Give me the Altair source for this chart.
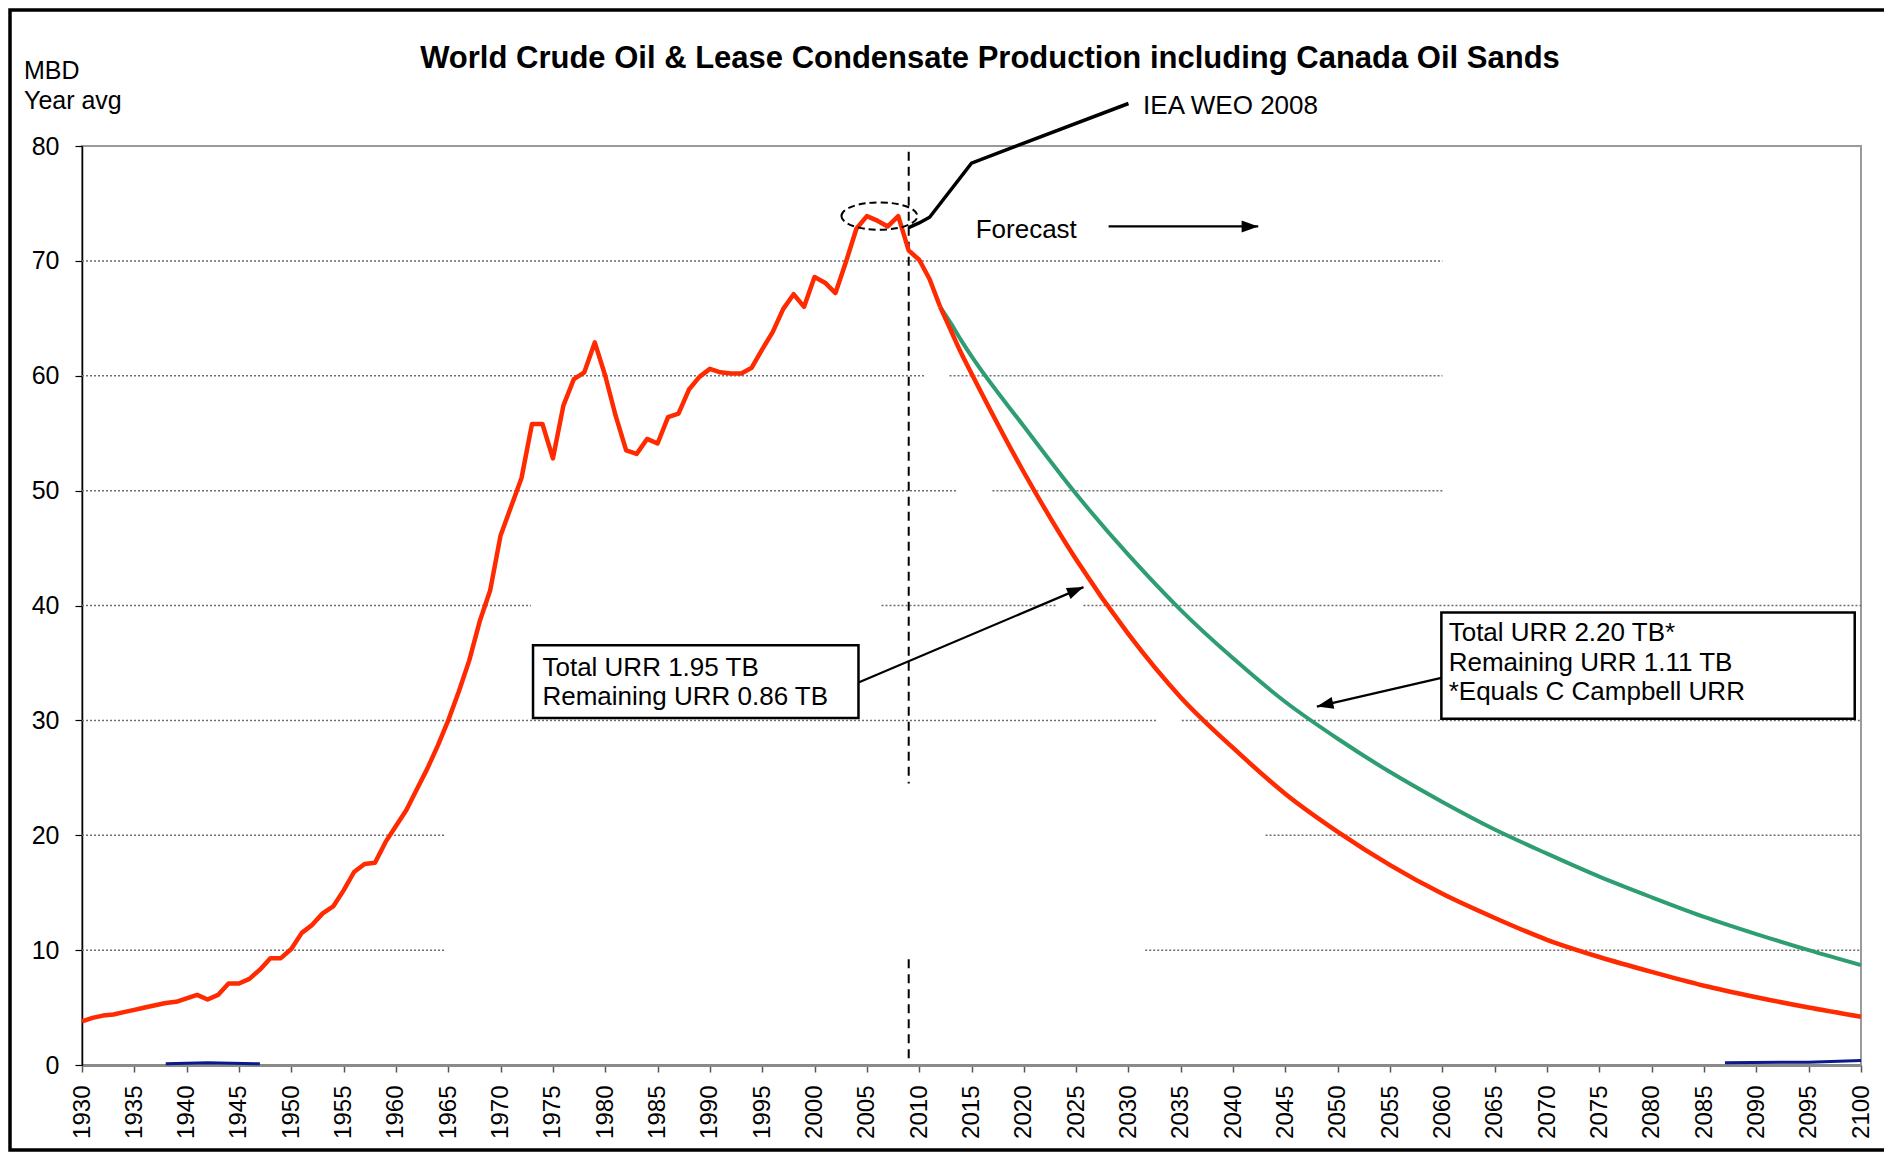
import altair as alt
import pandas as pd
import math

FONT = "Liberation Sans"

# ---------------- data ----------------
hist_years = list(range(1930, 2013))
hist_vals = [3.8, 4.1, 4.3, 4.4, 4.6, 4.8, 5.0, 5.2, 5.4, 5.5,
             5.8, 6.1, 5.7, 6.1, 7.1, 7.1, 7.5, 8.3, 9.3, 9.3,
             10.1, 11.5, 12.2, 13.2, 13.8, 15.2, 16.8, 17.5, 17.6, 19.4,
             20.8, 22.2, 24.0, 25.8, 27.8, 30.0, 32.5, 35.2, 38.6, 41.3,
             46.1, 48.6, 51.1, 55.8, 55.8, 52.8, 57.4, 59.7, 60.3, 62.9,
             60.0, 56.5, 53.5, 53.2, 54.5, 54.1, 56.4, 56.7, 58.8, 59.9,
             60.6, 60.3, 60.2, 60.2, 60.7, 62.3, 63.8, 65.8, 67.1, 66.0,
             68.6, 68.1, 67.2, 69.9, 72.8, 73.9, 73.5, 73.0, 73.9, 70.9,
             70.1, 68.4, 66.0]

fc_years = [2012, 2013, 2014, 2015, 2020, 2025, 2030, 2035, 2040, 2045, 2050,
            2055, 2060, 2065, 2070, 2075, 2080, 2085, 2090, 2095, 2100]
red_fc = [66.0, 64.0, 62.0, 60.2, 51.6, 44.0, 37.5, 32.0, 27.6, 23.6, 20.3,
          17.4, 14.9, 12.8, 10.9, 9.4, 8.1, 6.9, 5.9, 5.0, 4.2]
green_fc = [66.0, 64.6, 63.1, 61.7, 55.6, 49.7, 44.4, 39.6, 35.4, 31.6, 28.4,
            25.5, 22.9, 20.5, 18.4, 16.4, 14.6, 12.9, 11.4, 10.0, 8.7]

iea_years = [2009, 2010, 2011, 2015, 2019, 2030]
iea_vals = [72.9, 73.3, 73.8, 78.5, 79.9, 83.7]

navy_years = [1938, 1942, 1947, 2087, 2095, 2100]
navy_vals = [0.1, 0.2, 0.1, 0.2, 0.25, 0.4]
navy_grp = ["a", "a", "a", "b", "b", "b"]

# horizontal gridline segments (value, from year, to year)
grid_vals = [70, 60, 60, 50, 50, 40, 40, 40, 30, 30, 20, 20, 10, 10]
grid_from = [1930, 1930, 2012.9, 1930, 2017.0, 1930, 2006.4, 2025.7, 1930, 2035.1, 1930, 2043.1, 1930, 2031.6]
grid_to = [2060, 2010.6, 2060, 2013.7, 2060, 1972.9, 2023.2, 2100, 2032.7, 2100, 1964.6, 2100, 1964.6, 2100]

x_ticks = list(range(1930, 2101, 5))
y_ticks = list(range(0, 81, 10))

# ---------------- layout ----------------
W, H = 1779, 919
PX_YEAR = W / 170.0
PX_UNIT = H / 80.0

x_scale = alt.Scale(domain=[1930, 2100], nice=False, zero=False)
y_scale = alt.Scale(domain=[0, 80], nice=False, zero=True)

x_axis = alt.Axis(values=x_ticks, format="d", labelAngle=270, labelFontSize=24,
                  labelFont=FONT, labelColor="black", tickColor="#555",
                  tickSize=7, tickWidth=1.5, domainColor="#8a8a8a", domainWidth=3,
                  grid=False, title=None, labelPadding=13, labelOverlap=False,
                  labelFlush=False)
y_axis = alt.Axis(values=y_ticks, labelFontSize=25, labelFont=FONT, labelColor="black",
                  tickColor="black", tickSize=7, tickWidth=1.2, domainColor="black",
                  domainWidth=1.5, grid=False, title=None, labelPadding=16)


def X(f):
    return alt.X(f, type="quantitative", scale=x_scale, axis=x_axis)


def Y(f):
    return alt.Y(f, type="quantitative", scale=y_scale, axis=y_axis)


one = pd.DataFrame({"k": [0]})

frame = alt.Chart(one).mark_rect(fillOpacity=0, stroke="black", strokeWidth=3.5).encode(
    x=alt.value(-72), x2=alt.value(1950), y=alt.value(-136), y2=alt.value(1004))

grid_df = pd.DataFrame({"gy": grid_vals, "gx1": grid_from, "gx2": grid_to})
grid = alt.Chart(grid_df).mark_rule(strokeDash=[2, 2], color="#6e6e6e", strokeWidth=1.5).encode(
    x=X("gx1"), x2="gx2", y=Y("gy"))

vdf = pd.DataFrame({"vx": [2009, 2009], "vy1": [79.5, 9.2], "vy2": [24.5, 0.5]})
vline = alt.Chart(vdf).mark_rule(strokeDash=[9, 6], color="black", strokeWidth=2).encode(
    x=X("vx"), y=Y("vy1"), y2="vy2")

hist_df = pd.DataFrame({"yr": hist_years, "v": hist_vals})
fc_df = pd.DataFrame({"yr": fc_years, "red": red_fc, "green": green_fc})
iea_df = pd.DataFrame({"yr": iea_years, "v": iea_vals})
navy_df = pd.DataFrame({"yr": navy_years, "v": navy_vals, "g": navy_grp})

navy = alt.Chart(navy_df).mark_line(color="#0a1a8c", strokeWidth=3).encode(
    x=X("yr"), y=Y("v"), detail="g")
green = alt.Chart(fc_df).mark_line(color="#2e9e72", strokeWidth=4, interpolate="monotone").encode(
    x=X("yr"), y=Y("green"))
red_f = alt.Chart(fc_df).mark_line(color="#ff2a00", strokeWidth=4.5, interpolate="monotone").encode(
    x=X("yr"), y=Y("red"))
red_h = alt.Chart(hist_df).mark_line(color="#ff2a00", strokeWidth=4.5, strokeJoin="round").encode(
    x=X("yr"), y=Y("v"))
iea = alt.Chart(iea_df).mark_line(color="black", strokeWidth=3.5).encode(
    x=X("yr"), y=Y("v"))

# annotation boxes
box_df = pd.DataFrame({"bx1": [1973.1, 2059.9], "bx2": [2004.2, 2099.4],
                       "by1": [36.55, 39.4], "by2": [30.2, 30.15]})
boxes = alt.Chart(box_df).mark_rect(fill="white", stroke="black", strokeWidth=2.5).encode(
    x=X("bx1"), x2="bx2", y=Y("by1"), y2="by2")

ann_text = ["Total URR 1.95 TB", "Remaining URR 0.86 TB",
            "Total URR 2.20 TB*", "Remaining URR 1.11 TB", "*Equals C Campbell URR",
            "Forecast", "IEA WEO 2008"]
ann_x = [1974.0, 1974.0, 2060.6, 2060.6, 2060.6, 2015.4, 2031.4]
ann_y = [34.6, 32.0, 37.6, 35.0, 32.5, 72.7, 83.5]
ann_df = pd.DataFrame({"t": ann_text, "ax": ann_x, "ay": ann_y})
texts = alt.Chart(ann_df).mark_text(align="left", baseline="middle", font=FONT,
                                    fontSize=26, color="black").encode(
    x=X("ax"), y=Y("ay"), text="t")

# arrows
arr_x1 = [2004.2, 2059.9, 2028.1]
arr_y1 = [33.3, 33.7, 73.0]
arr_x2 = [2025.7, 2048.0, 2042.4]
arr_y2 = [41.6, 31.2, 73.0]
angs = []
for a, b, c, d in zip(arr_x1, arr_y1, arr_x2, arr_y2):
    dx = (c - a) * PX_YEAR
    dy = -(d - b) * PX_UNIT
    ang = math.degrees(math.atan2(dy, dx)) % 360
    angs.append(ang)
arr_df = pd.DataFrame({"x1": arr_x1, "y1": arr_y1, "x2": arr_x2, "y2": arr_y2, "ang": angs})
arrow_lines = alt.Chart(arr_df).mark_rule(color="black", strokeWidth=2.2).encode(
    x=X("x1"), y=Y("y1"), x2="x2", y2="y2")
HEAD = "M0,0L-1,-0.36L-1,0.36Z"
arrow_heads = alt.Chart(arr_df).mark_point(shape=HEAD, filled=True, color="black",
                                           size=1100, opacity=1).encode(
    x=X("x2"), y=Y("y2"), angle=alt.Angle("ang:Q", scale=None))

# dashed ellipse around the peak
ell_df = pd.DataFrame({"ex": [2006.2], "ey": [73.9]})
ELL = "M-1,0A1,0.36,0,1,1,1,0A1,0.36,0,1,1,-1,0Z"
ellipse = alt.Chart(ell_df).mark_point(shape=ELL, filled=False, color="black",
                                       size=5776, strokeWidth=2, strokeDash=[7, 4],
                                       opacity=1).encode(x=X("ex"), y=Y("ey"))

# titles
title = alt.Chart(one).mark_text(text="World Crude Oil & Lease Condensate Production including Canada Oil Sands",
                                 font=FONT, fontSize=31, fontWeight="bold", align="center",
                                 baseline="middle", color="black").encode(
    x=alt.value(908), y=alt.value(-87))
mbd = alt.Chart(one).mark_text(text="MBD", font=FONT, fontSize=25, align="left",
                               baseline="middle", color="black").encode(
    x=alt.value(-58), y=alt.value(-75))
yavg = alt.Chart(one).mark_text(text="Year avg", font=FONT, fontSize=25, align="left",
                                baseline="middle", color="black").encode(
    x=alt.value(-58), y=alt.value(-45))

chart = alt.layer(
    frame, grid, vline, navy, green, red_f, red_h, iea, boxes, texts,
    arrow_lines, arrow_heads, ellipse, title, mbd, yavg
).properties(
    width=W, height=H,
    padding={"left": 74, "top": 138, "right": 23, "bottom": 87},
    autosize=alt.AutoSizeParams(type="none"),
    background="white",
).configure_view(stroke="#9a9a9a", strokeWidth=2)

chart.save("out.html", embed_options={"renderer": "svg", "actions": False})
